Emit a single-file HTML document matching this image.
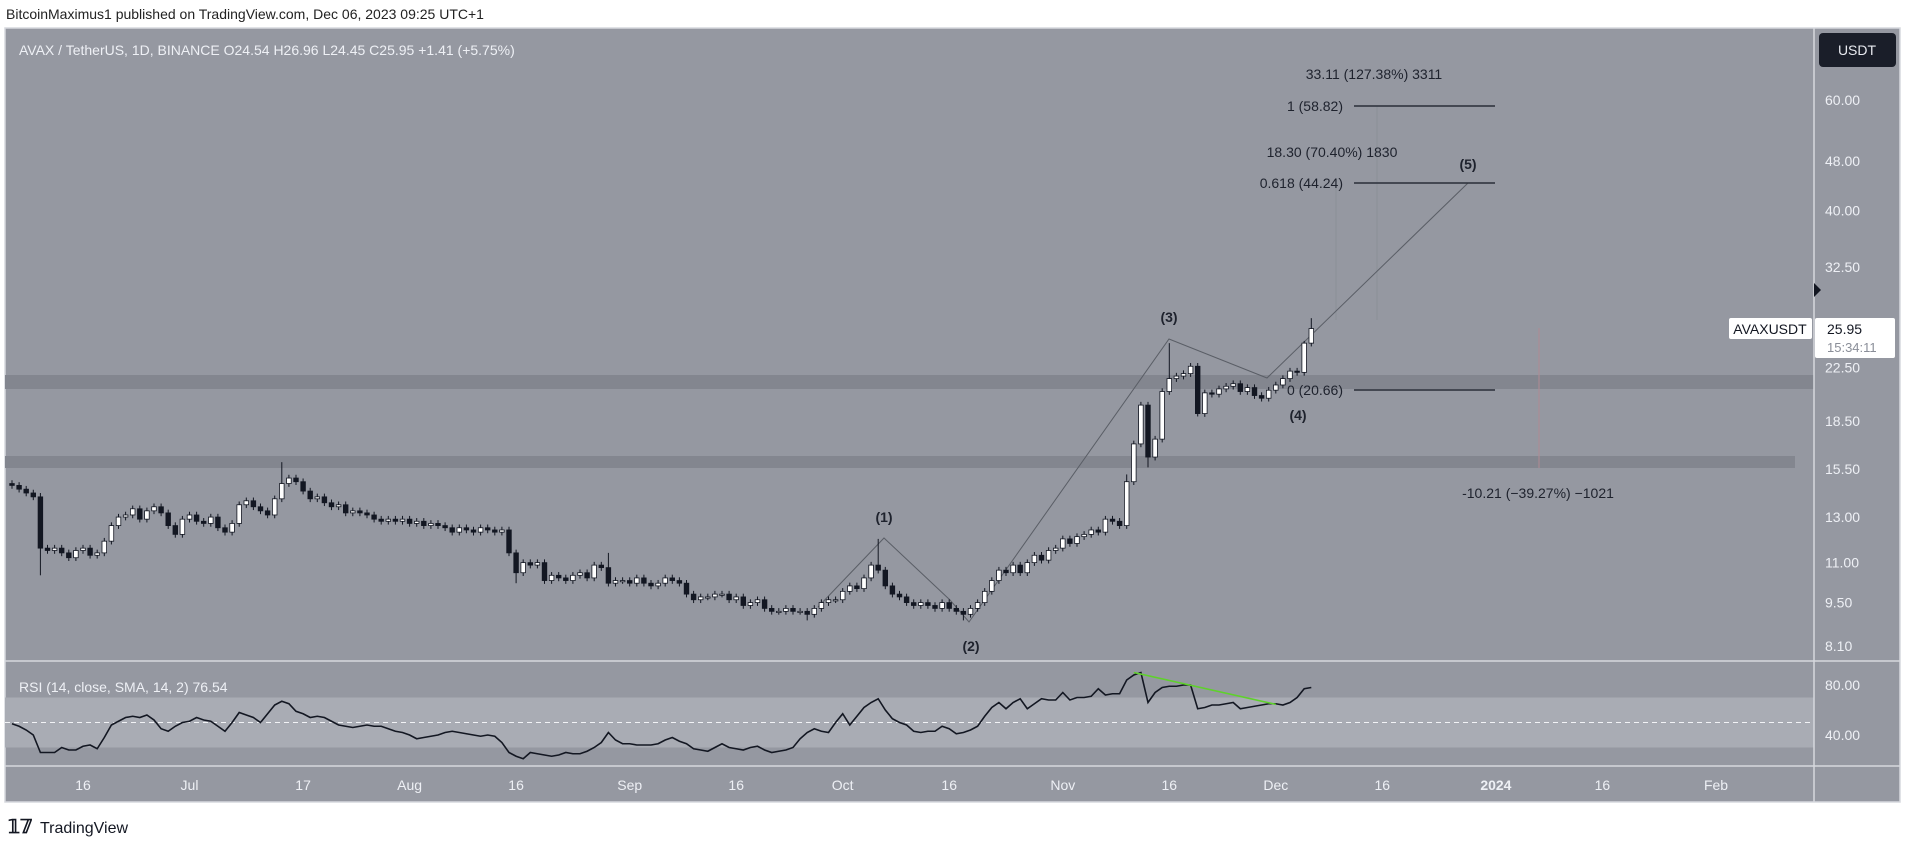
<!DOCTYPE html>
<html><head><meta charset="utf-8">
<style>
html,body{margin:0;padding:0;background:#fff;}
svg{display:block;font-family:"Liberation Sans",sans-serif;}
</style></head>
<body>
<svg id="chart" width="1908" height="844" viewBox="0 0 1908 844" xmlns="http://www.w3.org/2000/svg">
  <rect x="0" y="0" width="1908" height="844" fill="#ffffff"/>
  <text x="6" y="19" font-size="14" fill="#222">BitcoinMaximus1 published on TradingView.com, Dec 06, 2023 09:25 UTC+1</text>
  <rect x="5" y="28" width="1895" height="774" fill="#9598a1" stroke="#d6d8de" stroke-width="1.5"/>
  <g id="bands"></g>
  <g id="annot"></g>
  <g id="candles"></g>
  <g id="rsi"></g>
  <g id="axes"></g>
  <text x="19" y="55" font-size="14" fill="#eef0f5">AVAX / TetherUS, 1D, BINANCE  O24.54  H26.96  L24.45  C25.95  +1.41 (+5.75%)</text>
  <text x="19" y="692" font-size="14" fill="#eef0f5">RSI (14, close, SMA, 14, 2)  76.54</text>
  <g>
    <rect x="1819" y="33" width="77" height="34" rx="4" fill="#1a1e29"/>
    <text x="1857" y="55" font-size="14" fill="#e8eaf0" text-anchor="middle">USDT</text>
  </g>
  <g>
    <text x="8" y="833" font-size="19" font-weight="bold" fill="#131722">𝟙𝟟</text>
    <text x="40" y="833" font-size="16" fill="#131722">TradingView</text>
  </g>
</svg>
<script>
const NS="http://www.w3.org/2000/svg";
const closes=[14.6,14.4,14.2,14.0,11.6,
11.5,11.6,11.4,11.2,11.5,11.6,11.3,11.4,
11.9,12.6,13.0,13.1,13.4,12.9,13.3,13.5,
13.2,12.6,12.2,12.9,13.1,12.8,12.7,13.0,12.5,12.3,
12.7,13.6,13.8,13.5,13.3,13.1,13.9,14.7,15.0,
14.8,14.3,13.9,14.0,13.7,13.5,13.6,13.2,13.3,13.2,13.1,
12.9,12.8,12.9,12.8,12.9,12.7,12.8,12.6,12.7,12.6,12.5,12.3,
12.5,12.4,12.3,12.5,12.4,12.3,12.4,11.4,10.6,11.0,
10.9,11.0,10.3,10.5,10.4,10.3,10.5,10.6,
10.4,10.9,10.8,10.2,10.3,10.3,
10.2,10.4,10.2,10.1,10.2,10.4,10.3,10.2,9.8,
9.6,9.7,9.7,9.8,9.8,9.6,9.7,9.4,9.5,
9.6,9.3,9.2,9.2,9.3,9.2,9.2,9.1,9.3,9.5,9.6,
9.6,9.9,10.1,10.0,10.4,10.9,
10.7,10.1,9.8,9.7,9.5,9.4,9.5,
9.4,9.3,9.5,9.3,9.2,9.1,
9.3,9.5,9.9,10.3,10.7,10.6,
10.9,10.6,11.0,11.3,11.1,11.5,11.6,12.0,
11.8,12.1,12.2,12.4,12.3,12.9,12.8,12.6,14.8,
17.0,19.6,16.2,17.3,20.6,21.6,21.8,22.0,22.6,19.0,20.5,20.4,20.8,21.0,21.2,20.6,20.9,20.3,20.1,20.7,21.1,21.6,22.2,22.1,24.6,25.95];
const firstOpen=14.7;
const highOverrides={4:14.2,38:15.9,84:11.4,122:12.0,157:15.2,163:24.6,182:24.8,183:26.96};
const lowOverrides={4:10.5,71:10.2,112:8.9,134:8.9,160:15.6,161:16.0,167:18.8};
const rsiValues=[49,47,44,40,26,26,26,30,28,28,31,32,29,38,48,51,54,55,54,56,52,45,43,47,50,51,54,52,51,47,43,50,58,56,54,50,57,64,67,65,59,57,54,55,54,51,48,47,46,47,48,47,47,45,43,42,40,37,38,39,40,42,43,42,41,40,39,40,39,34,26,23,21,26,25,24,23,24,26,25,25,27,30,34,42,36,33,33,32,32,32,33,36,38,35,33,29,28,27,30,33,30,29,28,30,31,28,26,27,28,30,37,42,45,43,42,50,57,48,55,62,66,69,60,53,50,48,43,42,43,43,47,45,41,42,44,47,55,62,66,61,66,69,61,65,69,68,68,74,68,70,70,71,77,72,73,73,84,88,90,66,74,78,79,79,80,80,61,62,64,64,65,66,61,62,63,64,65,65,64,66,70,77,78];
const priceTicks=[60,48,40,32.5,22.5,18.5,15.5,13,11,9.5,8.1];
const rsiTicks=[80,40];
const dateLabels=["16","Jul","17","Aug","16","Sep","16","Oct","16","Nov","16","Dec","16","2024","16","Feb"];
const dateIdx=[10,25,41,56,71,87,102,117,132,148,163,178,193,209,224,240];

const X0=12, DX=7.1;
const xOf=i=>X0+i*DX;
const yP=p=>100+272.7*(Math.log(60)-Math.log(p));
const yR=v=>685+(80-v)*1.25;
function el(tag,attrs,parent){const e=document.createElementNS(NS,tag);for(const k in attrs)e.setAttribute(k,attrs[k]);parent.appendChild(e);return e;}

// bands / panes
const bands=document.getElementById('bands');
let b=el('rect',{x:5,y:375,width:1809,height:14,fill:'#83868f'},bands);


b=el('rect',{x:5,y:456,width:1790,height:12,fill:'#83868f'},bands);


b=el('rect',{x:5,y:yR(70),width:1809,height:yR(30)-yR(70),fill:'#a9acb4'},bands);


b=el('line',{x1:5,x2:1814,y1:yR(50),y2:yR(50),stroke:'#f2f3f6','stroke-dasharray':'5,4','stroke-width':1},bands);


[[661],[766]].forEach(([y])=>{const l=el('line',{x1:5,x2:1900,y1:y,y2:y,stroke:'#d6d8de','stroke-width':1.5},bands);

});
b=el('line',{x1:1814,x2:1814,y1:28,y2:802,stroke:'#d6d8de','stroke-width':1.5},bands);



// annotations
const an=document.getElementById('annot');
function line(x1,y1,x2,y2,stroke,w,name){const l=el('line',{x1,y1,x2,y2,stroke,'stroke-width':w},an);

return l;}
function txt(x,y,s,name,anchor,size,weight){const t=el('text',{x,y,'font-size':size||14,fill:'#1e222d','text-anchor':anchor||'middle','font-weight':weight||'normal'},an);t.textContent=s;

return t;}
line(1336,183,1336,320,'#8a8f98',1,'fib-measure-line');
line(1377,106,1377,320,'#8a8f98',1,'fib-measure-line');
line(1539,328,1539,468,'#b08a93',1,'drop-measure-line');
const wave=[[818,607],[884,538],[950,600],[969,622],[1169,339],[1267,378],[1468,183]];
const pl=el('polyline',{points:wave.map(p=>p.join(',')).join(' '),fill:'none',stroke:'#5a5e66','stroke-width':1},an);


line(1354,106,1495,106,'#2a2e39',1.5,'fib-level-1');
line(1354,183,1495,183,'#2a2e39',1.5,'fib-level-0618');
line(1354,390,1495,390,'#2a2e39',1.5,'fib-level-0');
txt(1343,111,'1 (58.82)','fib-label-1','end');
txt(1343,188,'0.618 (44.24)','fib-label-0618','end');
txt(1343,395,'0 (20.66)','fib-label-0','end');
txt(1374,79,'33.11 (127.38%) 3311','measure-label-top');
txt(1332,157,'18.30 (70.40%) 1830','measure-label-mid');
txt(1538,498,'-10.21 (\u221239.27%) \u22121021','measure-label-drop');
txt(884,522,'(1)','wave-label-1','middle',14,'bold');
txt(971,651,'(2)','wave-label-2','middle',14,'bold');
txt(1169,322,'(3)','wave-label-3','middle',14,'bold');
txt(1298,420,'(4)','wave-label-4','middle',14,'bold');
txt(1468,169,'(5)','wave-label-5','middle',14,'bold');

// candles
const cg=document.getElementById('candles');
for(let i=0;i<closes.length;i++){
  const o=i?closes[i-1]:firstOpen, c=closes[i];
  const hi=highOverrides[i]!==undefined?highOverrides[i]:Math.max(o,c)*1.012;
  const lo=lowOverrides[i]!==undefined?lowOverrides[i]:Math.min(o,c)*0.988;
  const x=xOf(i), up=c>=o;
  const g=el('g',{},cg);
  
  
  el('line',{x1:x,x2:x,y1:yP(hi),y2:yP(lo),stroke:'#131722','stroke-width':1},g);
  const yt=yP(Math.max(o,c)), yb=yP(Math.min(o,c));
  el('rect',{x:x-2.3,y:yt,width:4.6,height:Math.max(1.2,yb-yt),fill:up?'#ffffff':'#131722',stroke:'#131722','stroke-width':0.8},g);
}

// rsi
const rg=document.getElementById('rsi');
const rl=el('polyline',{points:rsiValues.map((v,i)=>xOf(i)+','+yR(v)).join(' '),fill:'none',stroke:'#131722','stroke-width':1.6},rg);


const gl=el('line',{x1:xOf(158),y1:yR(90),x2:xOf(178),y2:yR(64.5),stroke:'#5fd12c','stroke-width':1.6},rg);



// axes
const ax=document.getElementById('axes');
priceTicks.forEach(p=>{const t=el('text',{x:1825,y:yP(p)+5,'font-size':14,fill:'#eef0f5'},ax);t.textContent=p.toFixed(2);

});
rsiTicks.forEach(v=>{const t=el('text',{x:1825,y:yR(v)+5,'font-size':14,fill:'#eef0f5'},ax);t.textContent=v.toFixed(2);

});
dateLabels.forEach((s,k)=>{const t=el('text',{x:xOf(dateIdx[k]),y:790,'font-size':14,fill:'#eef0f5','text-anchor':'middle','font-weight':s==='2024'?'bold':'normal'},ax);t.textContent=s;

});
// last price marker
const tri=el('polygon',{points:'1814,283 1821,290 1814,297',fill:'#131722'},ax);


const sb=el('g',{},ax);


el('rect',{x:1729,y:318,width:83,height:21,fill:'#ffffff',rx:2},sb);
let t=el('text',{x:1770,y:334,'font-size':14,fill:'#131722','text-anchor':'middle'},sb);t.textContent='AVAXUSDT';
el('rect',{x:1815,y:318,width:80,height:40,fill:'#ffffff',rx:2},sb);
t=el('text',{x:1827,y:334,'font-size':14,fill:'#131722'},sb);t.textContent='25.95';
t=el('text',{x:1827,y:352,'font-size':13,fill:'#8a8e98'},sb);t.textContent='15:34:11';
</script>
</body></html>
